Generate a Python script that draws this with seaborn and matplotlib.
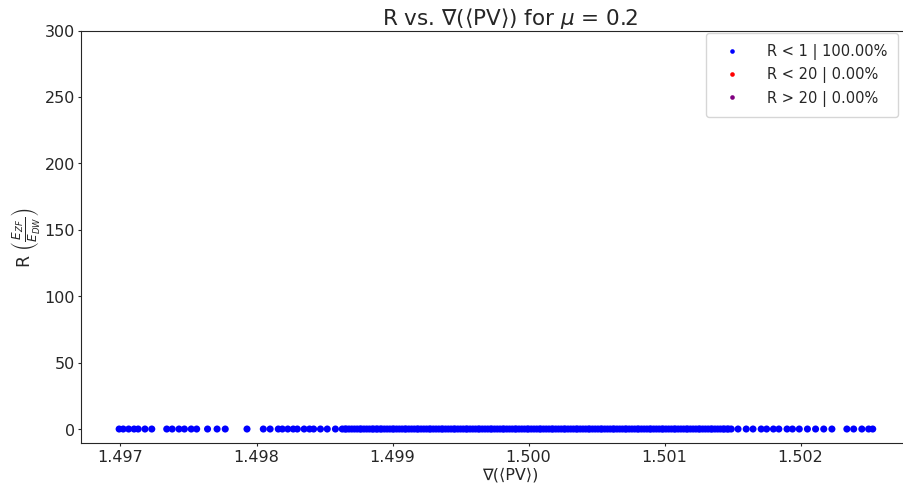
import pandas as pd
import seaborn as sns
import matplotlib.pyplot as plt

# gradient of <PV> for each run
grad_pv = [
    # sparse left tail
    1.49699, 1.49702, 1.49706, 1.49710, 1.49713, 1.49718, 1.49723, 1.49734,
    1.49738, 1.49743, 1.49747, 1.49752, 1.49756, 1.49764, 1.49771, 1.49777,
    1.49793, 1.49805, 1.49810, 1.49816, 1.49819, 1.49823, 1.49827, 1.49830,
    1.49835, 1.49839, 1.49842, 1.49847, 1.49852, 1.49858,
    # dense core
    1.49863, 1.49866, 1.49870, 1.49872, 1.49876, 1.49879, 1.49881, 1.49885, 1.49888, 1.49891,
    1.49894, 1.49896, 1.49900, 1.49903, 1.49905, 1.49909, 1.49912, 1.49914, 1.49918, 1.49921,
    1.49923, 1.49927, 1.49930, 1.49932, 1.49936, 1.49939, 1.49941, 1.49945, 1.49948, 1.49950,
    1.49954, 1.49957, 1.49959, 1.49963, 1.49966, 1.49968, 1.49972, 1.49975, 1.49977, 1.49981,
    1.49984, 1.49986, 1.49990, 1.49993, 1.49995, 1.49999, 1.50002, 1.50004, 1.50008, 1.50011,
    1.50013, 1.50017, 1.50020, 1.50022, 1.50026, 1.50029, 1.50031, 1.50035, 1.50038, 1.50040,
    1.50044, 1.50047, 1.50049, 1.50053, 1.50056, 1.50058, 1.50062, 1.50065, 1.50067, 1.50071,
    1.50074, 1.50076, 1.50080, 1.50083, 1.50085, 1.50089, 1.50092, 1.50094, 1.50098, 1.50101,
    1.50103, 1.50107, 1.50110, 1.50112, 1.50116, 1.50119, 1.50121, 1.50125, 1.50128, 1.50130,
    1.50134, 1.50137, 1.50139, 1.50143, 1.50146, 1.50149,
    1.49865, 1.49868, 1.49874, 1.49877, 1.49883, 1.49886, 1.49889, 1.49892, 1.49898, 1.49901,
    1.49907, 1.49910, 1.49916, 1.49919, 1.49925, 1.49928, 1.49934, 1.49937, 1.49943, 1.49946,
    1.49952, 1.49955, 1.49961, 1.49964, 1.49970, 1.49973, 1.49979, 1.49982, 1.49988, 1.49991,
    1.49997, 1.50000, 1.50006, 1.50009, 1.50015, 1.50018, 1.50024, 1.50027, 1.50033, 1.50036,
    1.50042, 1.50045, 1.50051, 1.50054, 1.50060, 1.50063, 1.50069, 1.50072, 1.50078, 1.50081,
    1.50087, 1.50090, 1.50096, 1.50099, 1.50105, 1.50108, 1.50114, 1.50117, 1.50123, 1.50126,
    1.50132, 1.50135, 1.50141, 1.50144, 1.50147,
    # sparse right tail
    1.50154, 1.50160, 1.50165, 1.50171, 1.50175, 1.50180, 1.50184, 1.50190,
    1.50194, 1.50199, 1.50205, 1.50211, 1.50217, 1.50223, 1.50234, 1.50239,
    1.50245, 1.50250, 1.50253,
]
# R = E_ZF / E_DW, all effectively zero on this scale
ratio = [0.0] * len(grad_pv)

mu = 0.2
thresholds = [1, 20]
colors = ["blue", "red", "purple"]


def classify(r):
    if r < thresholds[0]:
        return 0
    if r < thresholds[1]:
        return 1
    return 2


def build_frame(xs, rs):
    cats = [classify(r) for r in rs]
    n = len(cats)
    pct = [100.0 * cats.count(i) / n for i in range(3)]
    labels = [f"R < {thresholds[0]} | {pct[0]:.2f}%",
              f"R < {thresholds[1]} | {pct[1]:.2f}%",
              f"R > {thresholds[1]} | {pct[2]:.2f}%"]
    df = pd.DataFrame({"x": xs, "r": rs, "cat": [labels[c] for c in cats]})
    return df, labels


def main():
    sns.set_style("ticks")
    plt.rcParams['font.family'] = ['DejaVu Sans']

    df, labels = build_frame(grad_pv, ratio)

    fig = plt.figure(figsize=(9.035, 4.835), dpi=100)
    # the original axes run past the right edge of the image
    ax = fig.add_axes([0.0897, 0.0828, 0.950, 0.853])
    sns.scatterplot(data=df, x="x", y="r", hue="cat", hue_order=labels,
                    palette=dict(zip(labels, colors)), s=26, linewidth=0, ax=ax)

    ax.set_xlim(1.49671, 1.50302)
    ax.set_ylim(-10.5, 300)
    ax.set_xticks([1.497, 1.498, 1.499, 1.500, 1.501, 1.502])
    ax.set_xticklabels(["1.497", "1.498", "1.499", "1.500", "1.501", "1.502"])
    ax.set_yticks(range(0, 301, 50))
    ax.tick_params(labelsize=11.5, pad=2, length=2.5)

    ax.set_title(rf"R vs. ∇(⟨PV⟩) for $\mu$ = {mu}", fontsize=15.5, pad=4)
    ax.set_xlabel("∇(⟨PV⟩)", fontsize=11.5, labelpad=2)
    ax.set_ylabel(r"R $\left(\frac{E_{ZF}}{E_{DW}}\right)$", fontsize=12.5, labelpad=1)

    ax.legend(loc="upper right", fontsize=10.5, markerscale=0.65,
              handletextpad=1.4, borderpad=0.75, borderaxespad=0.15,
              bbox_to_anchor=(0.9545, 1.0))

    fig.savefig("out.png", dpi=100)
    plt.close(fig)


if __name__ == "__main__":
    main()
